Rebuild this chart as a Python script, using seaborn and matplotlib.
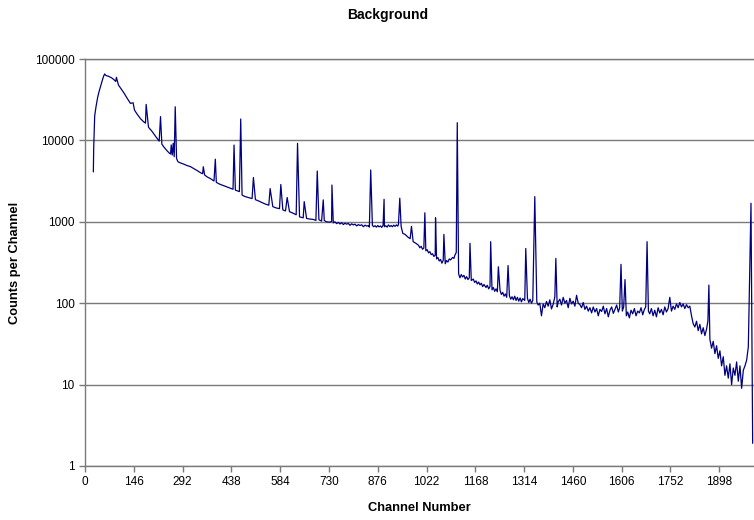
import matplotlib
matplotlib.use("Agg")
import matplotlib.pyplot as plt
from matplotlib.ticker import NullLocator
import pandas as pd
import seaborn as sns

# Background gamma spectrum continuum, as (channel, counts per channel) pairs
low_channels = [
    (25, 4100), (26, 8000), (29, 20000), (33, 26000), (38, 34000), (42, 39700),
    (47, 47000), (52, 55000), (56, 62000), (59, 65500), (62, 63000), (66, 62000),
    (70, 61500), (75, 60000), (80, 58500), (86, 56000), (92, 53000), (100, 48000),
    (108, 43000), (117, 38000), (126, 33000), (136, 28500), (148, 23600),
    (156, 21000), (166, 18500), (175, 17000), (181, 16300), (190, 14500),
    (200, 13000), (212, 11100), (222, 9800), (230, 9000), (236, 8300),
    (245, 7500), (252, 7000), (256, 6800), (261, 6600), (267, 6300), (274, 6000),
    (278, 5470), (285, 5300), (296, 5100), (306, 4900), (316, 4750), (326, 4500),
    (336, 4250), (346, 4000), (352, 3900), (358, 3760), (366, 3550), (375, 3400),
    (386, 3170), (393, 3050), (403, 2900), (413, 2800), (423, 2700), (433, 2600),
    (443, 2510), (450, 2450), (462, 2350), (470, 2130), (478, 2050), (490, 1980),
    (500, 1930), (510, 1870), (520, 1800), (530, 1720), (540, 1650), (550, 1600),
    (562, 1535), (572, 1480), (582, 1450), (592, 1400), (600, 1360), (612, 1330),
    (622, 1280), (632, 1220), (642, 1150), (653, 1120), (663, 1100), (673, 1080),
    (683, 1070), (691, 1040), (700, 1060), (708, 1020), (716, 1035), (723, 1000),
]
mid_channels = [
    (733, 990), (738, 1010), (743, 970), (748, 1000), (753, 950), (758, 985),
    (763, 940), (768, 975), (773, 925), (778, 960), (783, 935), (788, 955),
    (793, 905), (798, 945), (803, 915), (808, 935), (813, 890), (818, 925),
    (823, 900), (828, 920), (833, 870), (838, 910), (843, 885), (848, 900),
    (851, 860), (860, 905), (864, 870), (868, 895), (872, 860), (876, 900),
    (880, 865), (884, 890), (888, 855), (892, 905), (896, 870), (900, 895),
    (904, 860), (908, 915), (912, 875), (916, 900), (920, 870), (924, 910),
    (928, 880), (932, 915), (936, 885), (938, 930), (946, 880),
    (951, 720), (958, 700), (966, 650), (973, 620), (982, 570), (990, 545),
    (998, 515), (1002, 480), (1006, 500), (1010, 460), (1014, 475), (1020, 440),
    (1024, 455), (1028, 415), (1032, 430), (1036, 395), (1040, 405), (1044, 375),
    (1048, 390), (1052, 350), (1056, 365), (1060, 330), (1064, 345), (1068, 310),
    (1072, 335), (1078, 305), (1082, 335), (1086, 320), (1090, 350), (1094, 340),
    (1100, 365), (1104, 355), (1107, 390), (1111, 420),
    (1118, 230), (1122, 205), (1126, 225), (1130, 210), (1134, 220), (1138, 198),
    (1142, 212), (1146, 195), (1150, 205), (1156, 190), (1162, 198), (1166, 180),
    (1170, 188), (1174, 172), (1178, 182), (1182, 168), (1186, 176), (1190, 160),
    (1194, 170), (1200, 156), (1204, 166), (1208, 150), (1212, 160), (1218, 146),
    (1222, 156), (1226, 140), (1230, 150), (1234, 138), (1242, 144), (1246, 128),
    (1250, 136), (1254, 122), (1258, 130), (1262, 118), (1270, 124), (1274, 112),
    (1278, 120), (1282, 110), (1286, 122), (1290, 108), (1294, 118), (1298, 106),
    (1302, 116), (1306, 104), (1310, 114), (1316, 108), (1324, 115), (1328, 102),
    (1332, 112), (1336, 100), (1340, 108), (1352, 104), (1356, 95),
]
high_channels = [
    (1361, 100), (1366, 70), (1371, 98), (1376, 88), (1381, 105), (1386, 92),
    (1391, 110), (1396, 85), (1401, 97), (1406, 120), (1413, 90), (1416, 104),
    (1421, 112), (1426, 95), (1431, 118), (1436, 100), (1441, 108), (1446, 88),
    (1451, 115), (1456, 98), (1461, 106), (1466, 92), (1471, 125), (1476, 100),
    (1481, 96), (1486, 88), (1491, 102), (1496, 84), (1501, 92), (1506, 80),
    (1511, 88), (1516, 76), (1521, 90), (1526, 78), (1531, 86), (1536, 70),
    (1541, 84), (1546, 79), (1551, 92), (1556, 74), (1561, 86), (1566, 68),
    (1571, 82), (1576, 90), (1581, 75), (1586, 84), (1591, 95), (1596, 78),
    (1600, 88), (1608, 80), (1612, 90), (1620, 70), (1624, 78), (1629, 66),
    (1634, 82), (1639, 74), (1644, 86), (1649, 70), (1654, 80), (1659, 76),
    (1664, 88), (1669, 72), (1674, 84), (1678, 90), (1686, 80), (1690, 74),
    (1695, 86), (1700, 70), (1705, 82), (1710, 68), (1715, 88), (1720, 76),
    (1725, 84), (1730, 72), (1735, 90), (1740, 78), (1745, 86), (1755, 80),
    (1760, 92), (1765, 84), (1770, 98), (1775, 88), (1780, 102), (1785, 90),
    (1790, 98), (1795, 86), (1800, 96), (1805, 88), (1810, 92), (1815, 70),
    (1820, 56), (1825, 51), (1830, 60), (1835, 46), (1840, 55), (1845, 42),
    (1850, 50), (1855, 40), (1860, 48), (1864, 60), (1870, 36), (1875, 28),
    (1880, 34), (1885, 24), (1890, 30), (1895, 21), (1900, 26), (1905, 17),
    (1910, 22), (1915, 13), (1920, 17), (1925, 12), (1930, 18), (1935, 10),
    (1940, 16), (1945, 13), (1950, 19), (1955, 11), (1960, 17), (1965, 9),
    (1970, 15), (1975, 17), (1980, 20), (1985, 29), (1998, 1.9),
]

# Photopeaks (channel of apex, counts at apex)
peak_channel = [
    94, 144, 183, 226, 258, 264, 270, 354, 390, 446, 466, 504, 554, 586, 605,
    636, 656, 695, 713, 739, 855, 895, 942, 977, 1017, 1049, 1074, 1114, 1152,
    1214, 1237, 1266, 1319, 1346, 1409, 1604, 1616, 1682, 1750, 1867, 1993,
]
peak_counts = [
    59600, 29000, 27700, 19600, 8800, 9200, 25900, 4750, 5880, 8770, 18300,
    3500, 2560, 2870, 1990, 9200, 1770, 4210, 1860, 2830, 4330, 1890, 1950,
    880, 1290, 1120, 700, 16500, 545, 570, 280, 290, 470, 2040, 355, 300, 195,
    570, 118, 167, 1690,
]

x_ticks = list(range(0, 1899, 146))
y_ticks = [1, 10, 100, 1000, 10000, 100000]
y_tick_labels = ["1", "10", "100", "1000", "10000", "100000"]

continuum = pd.DataFrame(low_channels + mid_channels + high_channels,
                         columns=["Channel Number", "Counts per Channel"])
peaks = pd.DataFrame({"Channel Number": peak_channel,
                      "Counts per Channel": peak_counts})
spectrum = pd.concat([continuum, peaks]).sort_values("Channel Number")

sns.set_theme(style="white")
plt.rcParams["font.family"] = ["Liberation Sans", "DejaVu Sans"]

fig = plt.figure(figsize=(7.54, 5.2), dpi=100)
ax = fig.add_axes([85 / 754, 54 / 520, 669 / 754, 407 / 520])

sns.lineplot(
    data=spectrum, x="Channel Number", y="Counts per Channel",
    sort=False, estimator=None, color="#000080", linewidth=0.9, ax=ax,
)

ax.set_yscale("log")
ax.set_ylim(1, 100000)
ax.set_xlim(0, 2002)
ax.set_yticks(y_ticks)
ax.set_yticklabels(y_tick_labels)
ax.yaxis.set_minor_locator(NullLocator())
ax.set_xticks(x_ticks)
ax.set_xticklabels([str(t) for t in x_ticks])

grid_col = "#7a7a7a"
ax.yaxis.grid(True, color=grid_col, linewidth=1.0)
ax.xaxis.grid(False)
ax.set_axisbelow(True)
for side in ("left", "bottom", "top"):
    ax.spines[side].set_visible(True)
    ax.spines[side].set_color(grid_col)
    ax.spines[side].set_linewidth(1.0)
ax.spines["right"].set_visible(False)

ax.tick_params(axis="both", which="major", direction="out", length=4.5,
               width=1.0, color=grid_col, labelsize=8.5, labelcolor="black",
               pad=3, bottom=True, left=True)

ax.set_xlabel("Channel Number", fontsize=9.3, fontweight="bold", labelpad=10,
              color="black")
ax.set_ylabel("Counts per Channel", fontsize=9.3, fontweight="bold",
              labelpad=10, color="black")
fig.text(388 / 754, 1 - 15 / 520, "Background", ha="center", va="center",
         fontsize=10, fontweight="bold", color="black")

fig.savefig("out.png", dpi=100, facecolor="white")
